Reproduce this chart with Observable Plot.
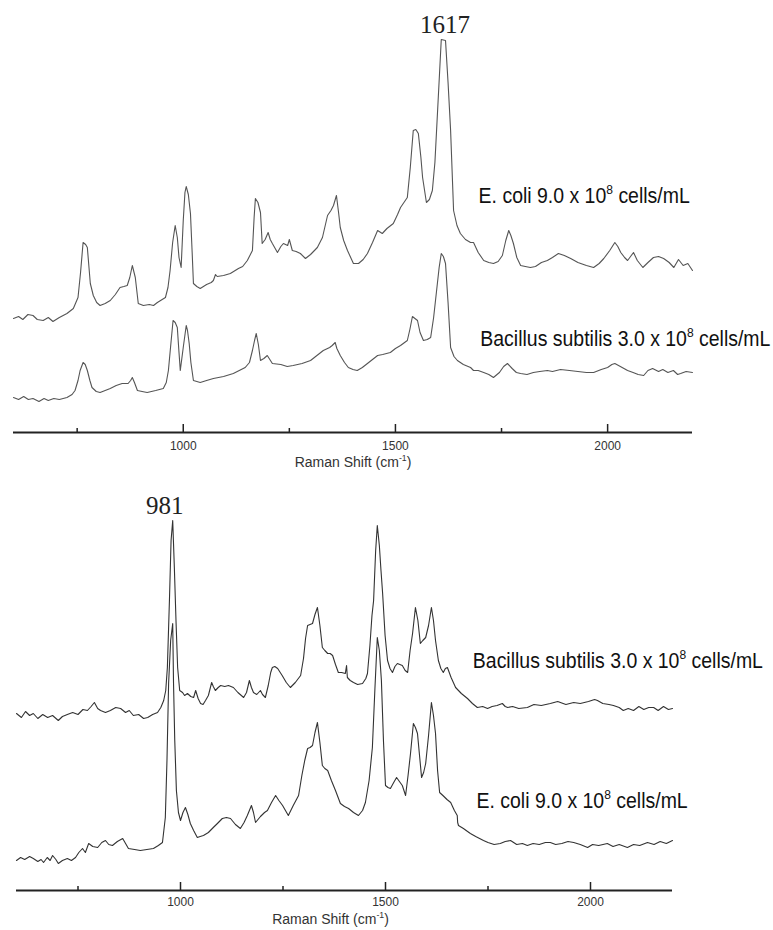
<!DOCTYPE html>
<html><head><meta charset="utf-8">
<script src="https://cdn.jsdelivr.net/npm/d3@7"></script>
<script src="https://cdn.jsdelivr.net/npm/@observablehq/plot@0.6"></script>
<style>
body{margin:0;background:#fff;}
#chart{width:773px;}
#chart svg{display:block;}
</style></head><body><div id="chart"></div>
<script>
// x ticks (Raman shift, cm-1)
const xTicksMajor = [1000, 1500, 2000];
const xTicksMinor = [750, 1250, 1750];
const axisTitle = "Raman Shift (cm^{-1})";

// Top panel: [Raman shift, intensity (a.u., offset traces)]
const topEcoli = [[600,114],[612,116],[622,113],[634,118],[646,117],[656,113],[670,112],[682,115],[693,111],[708,115],[726,119],[741,124],[752,135],[758,160],[764,190],[770,188],[774,185],[781,149],[788,137],[796,130],[804,127],[816,129],[828,132],[840,138],[851,145],[860,146],[868,147],[874,155],[880,167],[887,155],[894,129],[906,127],[920,128],[930,127],[939,130],[958,135],[964,145],[969,162],[975,190],[981,207],[986,195],[990,175],[995,165],[1000,212],[1004,240],[1007,246],[1012,238],[1017,219],[1021,180],[1024,149],[1032,146],[1040,144],[1055,148],[1066,150],[1071,152],[1076,158],[1080,156],[1095,157],[1111,159],[1130,164],[1140,166],[1151,172],[1163,182],[1167,215],[1170,234],[1176,230],[1182,220],[1186,189],[1193,193],[1200,200],[1205,193],[1210,189],[1222,180],[1230,186],[1236,189],[1246,187],[1250,193],[1257,182],[1266,181],[1276,179],[1288,174],[1300,178],[1316,185],[1328,195],[1340,217],[1348,222],[1354,227],[1361,237],[1366,220],[1370,205],[1378,192],[1387,182],[1401,169],[1413,169],[1424,173],[1434,179],[1446,190],[1458,202],[1469,199],[1480,204],[1495,209],[1505,218],[1512,225],[1528,235],[1535,265],[1542,302],[1548,303],[1554,299],[1560,275],[1564,255],[1573,230],[1580,233],[1587,242],[1593,270],[1599,319],[1604,360],[1608,393],[1618,392],[1624,350],[1630,302],[1637,222],[1645,207],[1653,199],[1665,193],[1677,190],[1684,190],[1695,180],[1708,172],[1720,170],[1731,169],[1742,171],[1752,177],[1760,192],[1767,202],[1772,197],[1778,189],[1786,175],[1795,167],[1806,166],[1818,165],[1830,166],[1844,170],[1858,172],[1870,175],[1884,179],[1898,177],[1913,174],[1930,170],[1950,167],[1967,165],[1980,169],[1991,174],[2005,182],[2017,190],[2024,186],[2031,180],[2040,175],[2047,172],[2054,176],[2061,180],[2070,172],[2083,165],[2095,170],[2108,175],[2120,176],[2132,174],[2145,170],[2156,165],[2167,173],[2178,167],[2189,169],[2200,162]];
const topBacillus = [[600,35],[612,33],[624,36],[635,33],[646,34],[660,31],[672,34],[682,32],[695,34],[708,33],[726,35],[738,38],[745,42],[752,52],[757,62],[764,70],[769,68],[774,62],[780,52],[785,45],[795,41],[804,40],[816,42],[828,44],[842,47],[856,49],[870,49],[876,52],[880,55],[885,50],[892,42],[903,41],[915,40],[935,42],[953,44],[960,50],[965,62],[970,85],[976,112],[981,110],[986,105],[990,80],[993,62],[1000,85],[1007,107],[1010,102],[1014,89],[1018,70],[1024,52],[1040,50],[1055,52],[1071,54],[1095,56],[1118,59],[1132,62],[1146,65],[1156,70],[1163,82],[1168,92],[1172,99],[1177,88],[1182,72],[1190,74],[1198,77],[1204,73],[1210,69],[1230,68],[1245,66],[1259,67],[1280,69],[1300,72],[1315,77],[1330,82],[1345,85],[1351,87],[1358,90],[1362,84],[1370,77],[1380,70],[1389,65],[1400,63],[1410,62],[1422,65],[1434,69],[1446,73],[1458,77],[1470,78],[1488,80],[1500,84],[1512,87],[1528,92],[1534,103],[1540,116],[1546,114],[1552,112],[1558,100],[1566,92],[1575,93],[1583,95],[1590,115],[1597,142],[1603,165],[1608,179],[1613,176],[1618,169],[1624,130],[1630,85],[1638,76],[1646,72],[1660,68],[1677,65],[1684,62],[1695,62],[1708,60],[1720,58],[1731,55],[1745,60],[1755,66],[1764,69],[1775,64],[1785,60],[1795,59],[1810,58],[1825,60],[1840,61],[1858,62],[1870,61],[1889,63],[1910,62],[1930,61],[1950,60],[1967,60],[1985,63],[2000,65],[2010,68],[2017,69],[2030,66],[2047,62],[2060,60],[2072,58],[2085,57],[2095,62],[2106,64],[2120,61],[2130,63],[2142,60],[2155,62],[2165,58],[2172,59],[2185,61],[2200,60]];

// Bottom panel
const botBacillus = [[600,177],[612,173],[622,179],[632,175],[641,177],[652,172],[664,176],[676,173],[688,175],[702,170],[712,174],[724,176],[737,178],[750,176],[762,181],[773,180],[782,184],[790,188],[798,182],[805,180],[817,178],[829,180],[842,183],[854,182],[866,178],[875,180],[885,175],[898,176],[910,172],[920,173],[932,176],[944,178],[952,183],[959,190],[964,200],[968,223],[973,290],[977,350],[981,370],[985,323],[989,270],[993,223],[998,200],[1005,198],[1010,195],[1017,197],[1025,194],[1032,193],[1037,200],[1043,192],[1049,187],[1055,186],[1061,190],[1068,195],[1076,208],[1080,204],[1085,200],[1092,203],[1098,205],[1108,204],[1117,205],[1129,203],[1140,198],[1154,193],[1161,198],[1168,210],[1173,203],[1178,198],[1186,196],[1195,200],[1200,196],[1207,193],[1214,205],[1220,218],[1224,223],[1230,224],[1237,222],[1248,215],[1258,208],[1268,203],[1280,208],[1293,215],[1300,232],[1305,252],[1310,265],[1316,266],[1322,267],[1328,276],[1334,283],[1340,265],[1346,243],[1352,240],[1359,237],[1365,237],[1371,235],[1378,226],[1385,218],[1393,218],[1402,217],[1405,225],[1407,213],[1414,210],[1422,208],[1432,206],[1444,207],[1452,212],[1456,217],[1462,245],[1467,275],[1471,290],[1476,340],[1480,365],[1485,345],[1489,320],[1493,297],[1499,255],[1505,230],[1511,222],[1517,218],[1523,224],[1529,227],[1535,226],[1541,225],[1548,220],[1554,218],[1560,240],[1566,257],[1573,283],[1579,270],[1585,247],[1591,250],[1598,253],[1605,265],[1612,283],[1617,270],[1622,250],[1629,230],[1635,222],[1641,218],[1646,222],[1651,223],[1660,213],[1671,203],[1685,197],[1700,192],[1712,187],[1724,183],[1737,184],[1749,182],[1760,184],[1772,185],[1785,187],[1792,184],[1798,183],[1810,184],[1825,182],[1846,183],[1862,186],[1880,185],[1902,187],[1920,189],[1940,186],[1959,188],[1975,187],[1995,189],[2010,191],[2017,190],[2030,187],[2045,186],[2056,185],[2070,183],[2080,180],[2092,182],[2105,180],[2118,184],[2130,181],[2142,183],[2154,183],[2165,180],[2178,184],[2190,181],[2200,182]];
const botEcoli = [[600,30],[610,33],[620,31],[632,34],[641,32],[652,29],[660,31],[666,28],[675,33],[682,30],[688,35],[696,31],[702,27],[712,30],[724,32],[734,30],[744,33],[752,38],[761,42],[768,38],[776,47],[786,44],[798,43],[808,48],[817,50],[825,46],[834,45],[846,49],[859,52],[866,47],[873,42],[888,41],[902,40],[918,41],[934,42],[946,45],[956,48],[963,73],[967,130],[971,207],[976,250],[981,267],[983,207],[986,150],[990,100],[995,78],[1000,70],[1006,78],[1012,83],[1018,76],[1024,67],[1032,60],[1041,53],[1048,54],[1056,55],[1068,58],[1080,63],[1090,67],[1102,72],[1112,73],[1122,72],[1134,66],[1146,62],[1155,68],[1163,75],[1168,80],[1173,85],[1178,78],[1183,68],[1195,74],[1205,78],[1212,80],[1222,88],[1232,95],[1240,90],[1249,85],[1256,80],[1263,75],[1275,85],[1288,95],[1296,115],[1303,130],[1310,142],[1316,143],[1322,145],[1328,158],[1334,168],[1340,148],[1346,125],[1352,122],[1359,120],[1368,110],[1378,100],[1390,87],[1400,84],[1410,82],[1422,78],[1434,75],[1444,80],[1451,88],[1460,110],[1468,143],[1474,200],[1480,253],[1485,240],[1490,210],[1495,150],[1500,105],[1506,103],[1512,102],[1520,108],[1527,113],[1534,109],[1541,105],[1549,95],[1555,115],[1561,137],[1568,167],[1573,163],[1578,157],[1583,135],[1588,113],[1593,118],[1598,127],[1605,155],[1612,188],[1617,175],[1622,157],[1627,120],[1632,98],[1640,95],[1650,91],[1659,88],[1668,80],[1675,75],[1676,68],[1678,65],[1690,62],[1707,57],[1720,54],[1739,50],[1750,48],[1765,46],[1780,47],[1792,49],[1805,50],[1820,46],[1834,47],[1846,45],[1860,47],[1875,46],[1890,48],[1902,48],[1915,46],[1930,47],[1945,49],[1959,48],[1975,46],[1993,43],[2005,46],[2020,45],[2041,47],[2055,44],[2070,46],[2090,43],[2105,46],[2120,45],[2139,48],[2155,46],[2170,49],[2185,47],[2200,50]];

// Annotations
const topLabels = [
  {x: 1696, y: 237, text: "E. coli 9.0 x 10^{8} cells/mL"},
  {x: 1700, y: 94, text: "Bacillus subtilis 3.0 x 10^{8} cells/mL"}
];
const botLabels = [
  {x: 1713, y: 230, text: "Bacillus subtilis 3.0 x 10^{8} cells/mL"},
  {x: 1722, y: 90, text: "E. coli 9.0 x 10^{8} cells/mL"}
];
const topPeak = [{x: 1617, y: 408, text: "1617"}];
const botPeak = [{x: 981, y: 385, text: "981"}];

const sans = "'Liberation Sans', Arial, sans-serif";
const serif = "'Liberation Serif', 'Times New Roman', serif";
const condense = 0.885; // horizontal compression of the series labels (narrow face)

function panel({series, labels, peak, peakDx, height, yMax, marginLeft, marginRight, stroke, titleDx, titleDy, tickPadding}) {
  const data = series.flatMap(s => s.points.map(([x, y]) => ({name: s.name, x, y})));
  return Plot.plot({
    width: 773, height, marginLeft, marginRight, marginTop: 0, marginBottom: height - yMax,
    x: {domain: [600, 2200]},
    y: {domain: [0, yMax], axis: null},
    style: {background: "white", fontFamily: sans},
    marks: [
      Plot.line(data, {x: "x", y: "y", z: "name", stroke, strokeWidth: 1.1}),
      Plot.ruleY([0], {stroke: "#222", strokeWidth: 2}),
      Plot.ruleX(xTicksMajor, {y1: 0, y2: 8, stroke: "#222", strokeWidth: 1.5}),
      Plot.ruleX(xTicksMinor, {y1: 0, y2: 4, stroke: "#222", strokeWidth: 1.5}),
      Plot.axisX({ticks: xTicksMajor, tickSize: 0, tickPadding, fontSize: 12, fill: "#333", label: null, tickFormat: d => String(d)}),
      Plot.text([axisTitle], {frameAnchor: "bottom", dy: titleDy, dx: titleDx, text: d => d, fontSize: 14, fill: "#333"}),
      Plot.text(labels, {x: "x", y: "y", text: "text", textAnchor: "start", fontSize: 22, fill: "#111"}),
      Plot.text(peak, {x: "x", y: "y", text: "text", dx: peakDx, fontSize: 25, fontFamily: serif, fill: "#222"})
    ]
  });
}

function superscripts(svg) {
  svg.querySelectorAll("text").forEach(t => {
    const s = t.textContent;
    if (!s.includes("^{")) return;
    const fs = parseFloat(getComputedStyle(t).fontSize);
    while (t.firstChild) t.removeChild(t.firstChild);
    let raised = false;
    s.split(/(\^\{[^}]*\})/).forEach(p => {
      if (!p) return;
      const ts = document.createElementNS("http://www.w3.org/2000/svg", "tspan");
      const m = p.match(/^\^\{([^}]*)\}$/);
      if (m) {
        ts.textContent = m[1];
        ts.setAttribute("font-size", (fs * 0.62).toFixed(1));
        ts.setAttribute("dy", (-fs * 0.38).toFixed(1));
        raised = true;
      } else {
        ts.textContent = p;
        if (raised) { ts.setAttribute("dy", (fs * 0.38).toFixed(1)); raised = false; }
      }
      t.appendChild(ts);
    });
    if (s.includes("cells/mL")) {
      const tr = t.getAttribute("transform");
      if (tr) {
        t.setAttribute("transform", tr + ` scale(${condense},1)`);
      } else {
        const x = +(t.getAttribute("x") || 0);
        t.setAttribute("transform", `translate(${x},0) scale(${condense},1) translate(${-x},0)`);
      }
    }
  });
}

const chartDiv = document.getElementById("chart");
const topSvg = panel({
  series: [{name: "E. coli", points: topEcoli}, {name: "Bacillus subtilis", points: topBacillus}],
  labels: topLabels, peak: topPeak, peakDx: 0,
  height: 475, yMax: 432, marginLeft: 13, marginRight: 81,
  stroke: "#555", titleDx: 0, titleDy: 34, tickPadding: 9
});
const bottomSvg = panel({
  series: [{name: "Bacillus subtilis", points: botBacillus}, {name: "E. coli", points: botEcoli}],
  labels: botLabels, peak: botPeak, peakDx: -8,
  height: 455, yMax: 415, marginLeft: 16, marginRight: 101,
  stroke: "#333", titleDx: -14, titleDy: 33, tickPadding: 7
});
chartDiv.append(topSvg, bottomSvg);
superscripts(topSvg);
superscripts(bottomSvg);
</script>
</body></html>
